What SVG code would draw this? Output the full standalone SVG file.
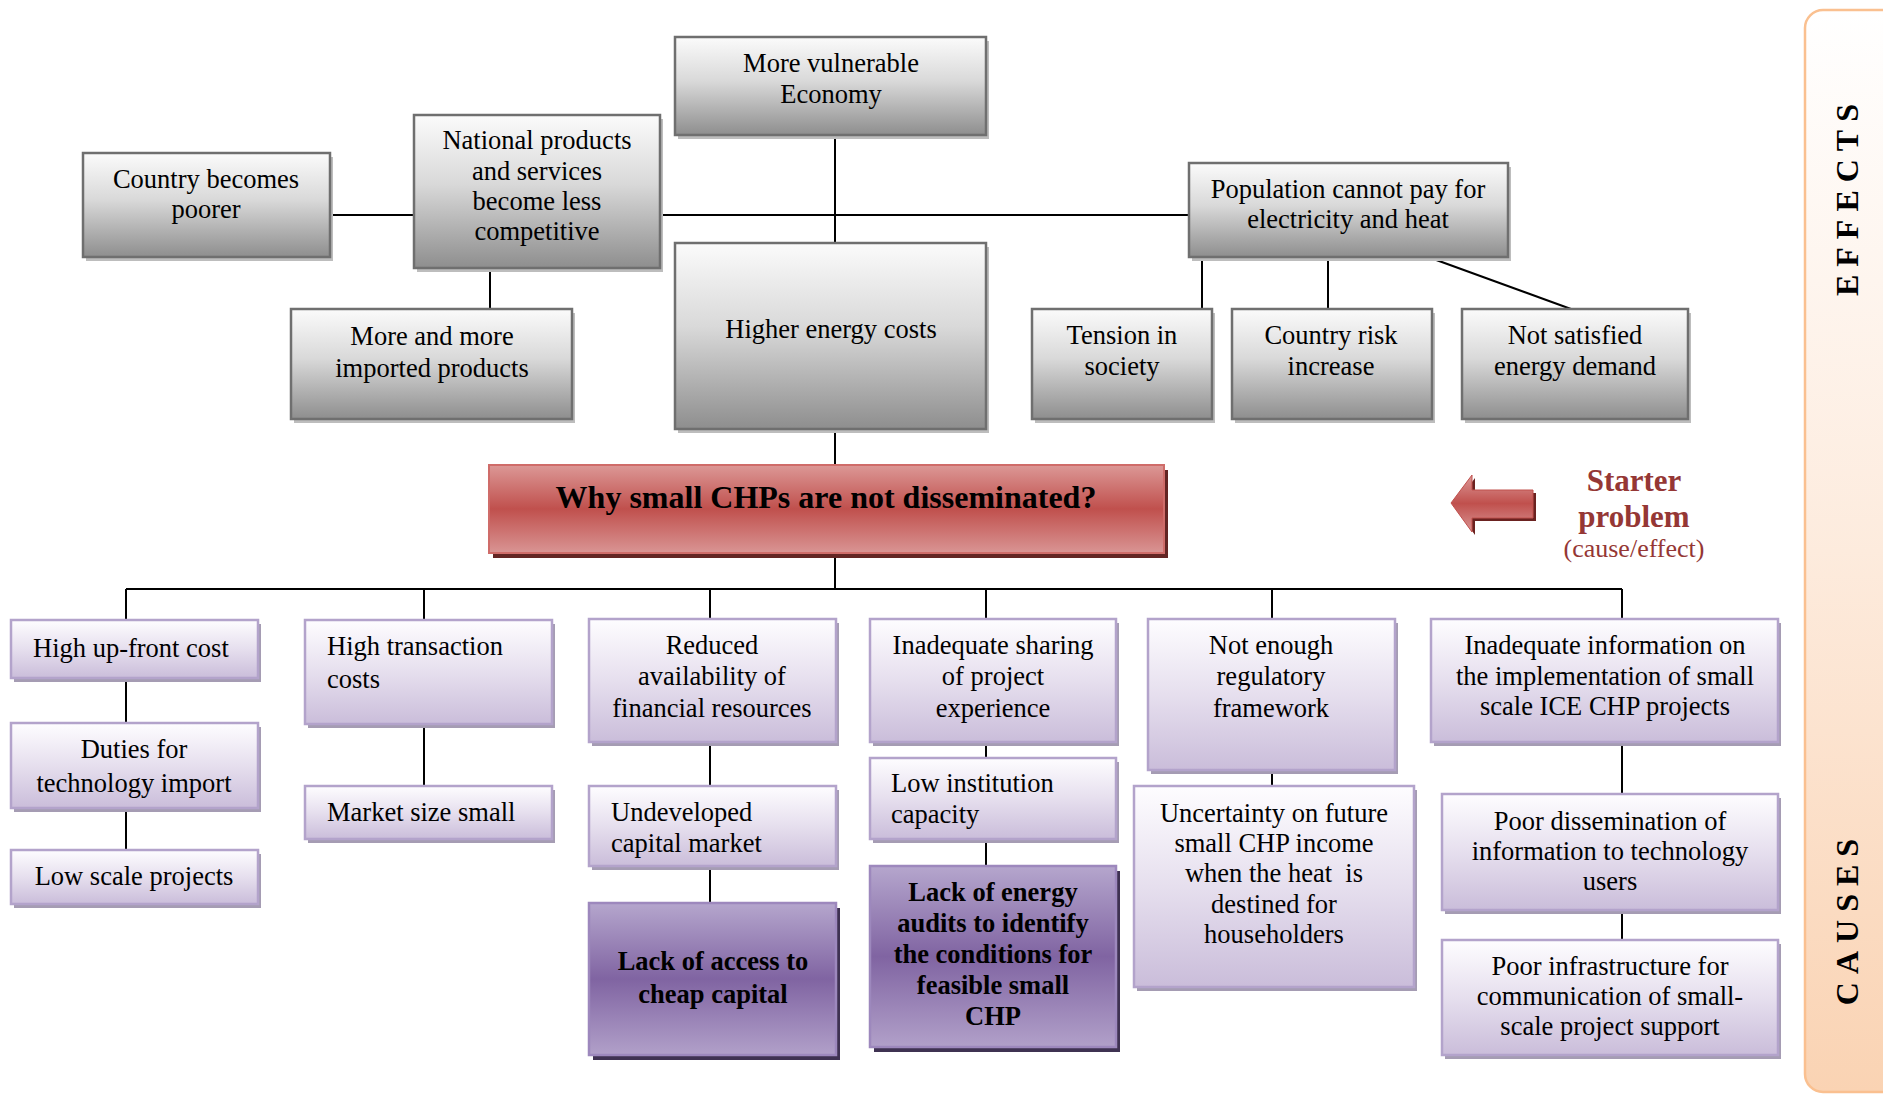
<svg xmlns="http://www.w3.org/2000/svg" width="1883" height="1097" viewBox="0 0 1883 1097">
  <defs>
    <linearGradient id="gGray" x1="0" y1="0" x2="0" y2="1">
      <stop offset="0" stop-color="#fbfbfb"/>
      <stop offset="0.45" stop-color="#d9d9d9"/>
      <stop offset="1" stop-color="#8e8e8e"/>
    </linearGradient>
    <linearGradient id="gLilac" x1="0" y1="0" x2="0" y2="1">
      <stop offset="0" stop-color="#fefdff"/>
      <stop offset="0.5" stop-color="#e6dfee"/>
      <stop offset="1" stop-color="#cabdda"/>
    </linearGradient>
    <linearGradient id="gPurple" x1="0" y1="0" x2="0" y2="1">
      <stop offset="0" stop-color="#b5a6cd"/>
      <stop offset="0.5" stop-color="#8064a2"/>
      <stop offset="1" stop-color="#b1a0c9"/>
    </linearGradient>
    <linearGradient id="gRed" x1="0" y1="0" x2="0" y2="1">
      <stop offset="0" stop-color="#dc9896"/>
      <stop offset="0.5" stop-color="#c0504d"/>
      <stop offset="1" stop-color="#d99594"/>
    </linearGradient>
    <linearGradient id="gPanel" x1="0" y1="0" x2="0" y2="1">
      <stop offset="0" stop-color="#ffffff"/>
      <stop offset="0.5" stop-color="#fdebdd"/>
      <stop offset="1" stop-color="#fad3b3"/>
    </linearGradient>
    <style>
      .sg { fill: #bdbdbd; }
      .bg { fill: url(#gGray); stroke: #6f6f6f; stroke-width: 2.5; }
      .sl { fill: #a59cb3; }
      .bl { fill: url(#gLilac); stroke: #b3a3cb; stroke-width: 2.5; }
      .sp { fill: #3f3252; }
      .bp { fill: url(#gPurple); stroke: #9d88bd; stroke-width: 2.5; }
      .t { font-family: "Liberation Serif", "Times New Roman", serif; font-size: 26.5px; fill: #000; }
      .c { text-anchor: middle; }
      .b { font-weight: bold; }
      .ln { stroke: #000; stroke-width: 2; fill: none; }
    </style>
  </defs>

  <rect width="1883" height="1097" fill="#ffffff"/>

  <!-- side band with the two section labels -->
  <g id="side-band">
    <rect x="1805" y="10" width="110" height="1082" rx="18" fill="url(#gPanel)" stroke="#fac090" stroke-width="2.5"/>
    <text class="t b c" transform="translate(1858,196) rotate(-90)" style="font-size:32px;letter-spacing:8px">EFFECTS</text>
    <text class="t b c" transform="translate(1858,918) rotate(-90)" style="font-size:32px;letter-spacing:8px">CAUSES</text>
  </g>

  <!-- connectors -->
  <g id="connectors">
    <line class="ln" x1="330" y1="215" x2="414" y2="215"/>
    <line class="ln" x1="490" y1="268" x2="490" y2="309"/>
    <line class="ln" x1="660" y1="215" x2="1189" y2="215"/>
    <line class="ln" x1="835" y1="135" x2="835" y2="243"/>
    <line class="ln" x1="835" y1="429" x2="835" y2="465"/>
    <line class="ln" x1="1202" y1="257" x2="1202" y2="309"/>
    <line class="ln" x1="1328" y1="257" x2="1328" y2="309"/>
    <line class="ln" x1="1428" y1="257" x2="1571" y2="309"/>

    <line class="ln" x1="835" y1="553" x2="835" y2="589"/>
    <line class="ln" x1="126" y1="589" x2="1622" y2="589"/>
    <line class="ln" x1="126" y1="589" x2="126" y2="620"/>
    <line class="ln" x1="424" y1="589" x2="424" y2="620"/>
    <line class="ln" x1="710" y1="589" x2="710" y2="619"/>
    <line class="ln" x1="986" y1="589" x2="986" y2="619"/>
    <line class="ln" x1="1272" y1="589" x2="1272" y2="619"/>
    <line class="ln" x1="1622" y1="589" x2="1622" y2="619"/>

    <line class="ln" x1="126" y1="678" x2="126" y2="723"/>
    <line class="ln" x1="126" y1="808" x2="126" y2="850"/>
    <line class="ln" x1="424" y1="724" x2="424" y2="786"/>
    <line class="ln" x1="710" y1="742" x2="710" y2="786"/>
    <line class="ln" x1="710" y1="866" x2="710" y2="903"/>
    <line class="ln" x1="986" y1="742" x2="986" y2="758"/>
    <line class="ln" x1="986" y1="839" x2="986" y2="866"/>
    <line class="ln" x1="1272" y1="770" x2="1272" y2="786"/>
    <line class="ln" x1="1622" y1="742" x2="1622" y2="794"/>
    <line class="ln" x1="1622" y1="910" x2="1622" y2="940"/>
  </g>

  <!-- effects -->
  <g id="country-poorer">
    <rect class="sg" x="86" y="157" width="247" height="104"/>
    <rect class="bg" x="83" y="153" width="247" height="104"/>
    <text class="t c" x="206" y="188">Country becomes</text>
    <text class="t c" x="206" y="218">poorer</text>
  </g>
  <g id="national-products">
    <rect class="sg" x="417" y="119" width="246" height="153"/>
    <rect class="bg" x="414" y="115" width="246" height="153"/>
    <text class="t c" x="537" y="149">National products</text>
    <text class="t c" x="537" y="180">and services</text>
    <text class="t c" x="537" y="210">become less</text>
    <text class="t c" x="537" y="240">competitive</text>
  </g>
  <g id="imported-products">
    <rect class="sg" x="294" y="313" width="281" height="110"/>
    <rect class="bg" x="291" y="309" width="281" height="110"/>
    <text class="t c" x="432" y="345">More and more</text>
    <text class="t c" x="432" y="377">imported products</text>
  </g>
  <g id="vulnerable-economy">
    <rect class="sg" x="678" y="41" width="311" height="98"/>
    <rect class="bg" x="675" y="37" width="311" height="98"/>
    <text class="t c" x="831" y="72">More vulnerable</text>
    <text class="t c" x="831" y="103">Economy</text>
  </g>
  <g id="higher-energy-costs">
    <rect class="sg" x="678" y="247" width="311" height="186"/>
    <rect class="bg" x="675" y="243" width="311" height="186"/>
    <text class="t c" x="831" y="338">Higher energy costs</text>
  </g>
  <g id="population-cannot-pay">
    <rect class="sg" x="1192" y="167" width="319" height="94"/>
    <rect class="bg" x="1189" y="163" width="319" height="94"/>
    <text class="t c" x="1348" y="198">Population cannot pay for</text>
    <text class="t c" x="1348" y="228">electricity and heat</text>
  </g>
  <g id="tension-in-society">
    <rect class="sg" x="1035" y="313" width="180" height="110"/>
    <rect class="bg" x="1032" y="309" width="180" height="110"/>
    <text class="t c" x="1122" y="344">Tension in</text>
    <text class="t c" x="1122" y="375">society</text>
  </g>
  <g id="country-risk">
    <rect class="sg" x="1235" y="313" width="200" height="110"/>
    <rect class="bg" x="1232" y="309" width="200" height="110"/>
    <text class="t c" x="1331" y="344">Country risk</text>
    <text class="t c" x="1331" y="375">increase</text>
  </g>
  <g id="energy-demand">
    <rect class="sg" x="1465" y="313" width="226" height="110"/>
    <rect class="bg" x="1462" y="309" width="226" height="110"/>
    <text class="t c" x="1575" y="344">Not satisfied</text>
    <text class="t c" x="1575" y="375">energy demand</text>
  </g>

  <!-- central problem -->
  <g id="starter-problem-box">
    <rect x="493" y="470" width="675" height="88" fill="#632523"/>
    <rect x="489" y="465" width="675" height="88" fill="url(#gRed)" stroke="#cf6c69" stroke-width="2"/>
    <text class="t b c" x="826" y="508" style="font-size:32px">Why small CHPs are not disseminated?</text>
  </g>

  <g id="starter-problem-label">
    <polygon points="1454,506 1475,478 1475,493 1536,493 1536,521 1475,521 1475,535" fill="#6b2220"/>
    <polygon points="1451,503 1472,475 1472,490 1533,490 1533,518 1472,518 1472,532" fill="url(#gRed)" stroke="#c0504d" stroke-width="1"/>
    <text class="t b c" x="1634" y="491" style="font-size:31px;fill:#953735">Starter</text>
    <text class="t b c" x="1634" y="527" style="font-size:31px;fill:#953735">problem</text>
    <text class="t c" x="1634" y="557" style="font-size:26px;fill:#953735">(cause/effect)</text>
  </g>

  <!-- causes -->
  <g id="high-upfront-cost">
    <rect class="sl" x="14" y="624" width="247" height="58"/>
    <rect class="bl" x="11" y="620" width="247" height="58"/>
    <text class="t" x="33" y="657">High up-front cost</text>
  </g>
  <g id="duties-import">
    <rect class="sl" x="14" y="727" width="247" height="85"/>
    <rect class="bl" x="11" y="723" width="247" height="85"/>
    <text class="t c" x="134" y="758">Duties for</text>
    <text class="t c" x="134" y="792">technology import</text>
  </g>
  <g id="low-scale-projects">
    <rect class="sl" x="14" y="854" width="247" height="54"/>
    <rect class="bl" x="11" y="850" width="247" height="54"/>
    <text class="t c" x="134" y="885">Low scale projects</text>
  </g>
  <g id="high-transaction-costs">
    <rect class="sl" x="308" y="624" width="247" height="104"/>
    <rect class="bl" x="305" y="620" width="247" height="104"/>
    <text class="t" x="327" y="655">High transaction</text>
    <text class="t" x="327" y="688">costs</text>
  </g>
  <g id="market-size-small">
    <rect class="sl" x="308" y="790" width="247" height="53"/>
    <rect class="bl" x="305" y="786" width="247" height="53"/>
    <text class="t" x="327" y="821">Market size small</text>
  </g>
  <g id="reduced-financial-resources">
    <rect class="sl" x="592" y="623" width="247" height="123"/>
    <rect class="bl" x="589" y="619" width="247" height="123"/>
    <text class="t c" x="712" y="654">Reduced</text>
    <text class="t c" x="712" y="685">availability of</text>
    <text class="t c" x="712" y="717">financial resources</text>
  </g>
  <g id="undeveloped-capital-market">
    <rect class="sl" x="592" y="790" width="247" height="80"/>
    <rect class="bl" x="589" y="786" width="247" height="80"/>
    <text class="t" x="611" y="821">Undeveloped</text>
    <text class="t" x="611" y="852">capital market</text>
  </g>
  <g id="cheap-capital">
    <rect class="sp" x="593" y="908" width="247" height="152"/>
    <rect class="bp" x="589" y="903" width="247" height="152"/>
    <text class="t b c" x="713" y="970">Lack of access to</text>
    <text class="t b c" x="713" y="1003">cheap capital</text>
  </g>
  <g id="inadequate-sharing">
    <rect class="sl" x="873" y="623" width="246" height="123"/>
    <rect class="bl" x="870" y="619" width="246" height="123"/>
    <text class="t c" x="993" y="654">Inadequate sharing</text>
    <text class="t c" x="993" y="685">of project</text>
    <text class="t c" x="993" y="717">experience</text>
  </g>
  <g id="low-institution-capacity">
    <rect class="sl" x="873" y="762" width="246" height="81"/>
    <rect class="bl" x="870" y="758" width="246" height="81"/>
    <text class="t" x="891" y="792">Low institution</text>
    <text class="t" x="891" y="823">capacity</text>
  </g>
  <g id="energy-audits">
    <rect class="sp" x="874" y="871" width="246" height="181"/>
    <rect class="bp" x="870" y="866" width="246" height="181"/>
    <text class="t b c" x="993" y="901">Lack of energy</text>
    <text class="t b c" x="993" y="932">audits to identify</text>
    <text class="t b c" x="993" y="963">the conditions for</text>
    <text class="t b c" x="993" y="994">feasible small</text>
    <text class="t b c" x="993" y="1025">CHP</text>
  </g>
  <g id="regulatory-framework">
    <rect class="sl" x="1151" y="623" width="247" height="151"/>
    <rect class="bl" x="1148" y="619" width="247" height="151"/>
    <text class="t c" x="1271" y="654">Not enough</text>
    <text class="t c" x="1271" y="685">regulatory</text>
    <text class="t c" x="1271" y="717">framework</text>
  </g>
  <g id="income-uncertainty">
    <rect class="sl" x="1137" y="790" width="280" height="201"/>
    <rect class="bl" x="1134" y="786" width="280" height="201"/>
    <text class="t c" x="1274" y="822">Uncertainty on future</text>
    <text class="t c" x="1274" y="852">small CHP income</text>
    <text class="t c" x="1274" y="882" xml:space="preserve">when the heat  is</text>
    <text class="t c" x="1274" y="913">destined for</text>
    <text class="t c" x="1274" y="943">householders</text>
  </g>
  <g id="inadequate-information">
    <rect class="sl" x="1434" y="623" width="347" height="123"/>
    <rect class="bl" x="1431" y="619" width="347" height="123"/>
    <text class="t c" x="1605" y="654">Inadequate information on</text>
    <text class="t c" x="1605" y="685">the implementation of small</text>
    <text class="t c" x="1605" y="715">scale ICE CHP projects</text>
  </g>
  <g id="poor-dissemination">
    <rect class="sl" x="1445" y="798" width="336" height="116"/>
    <rect class="bl" x="1442" y="794" width="336" height="116"/>
    <text class="t c" x="1610" y="830">Poor dissemination of</text>
    <text class="t c" x="1610" y="860">information to technology</text>
    <text class="t c" x="1610" y="890">users</text>
  </g>
  <g id="poor-infrastructure">
    <rect class="sl" x="1445" y="944" width="336" height="115"/>
    <rect class="bl" x="1442" y="940" width="336" height="115"/>
    <text class="t c" x="1610" y="975">Poor infrastructure for</text>
    <text class="t c" x="1610" y="1005">communication of small-</text>
    <text class="t c" x="1610" y="1035">scale project support</text>
  </g>
</svg>
